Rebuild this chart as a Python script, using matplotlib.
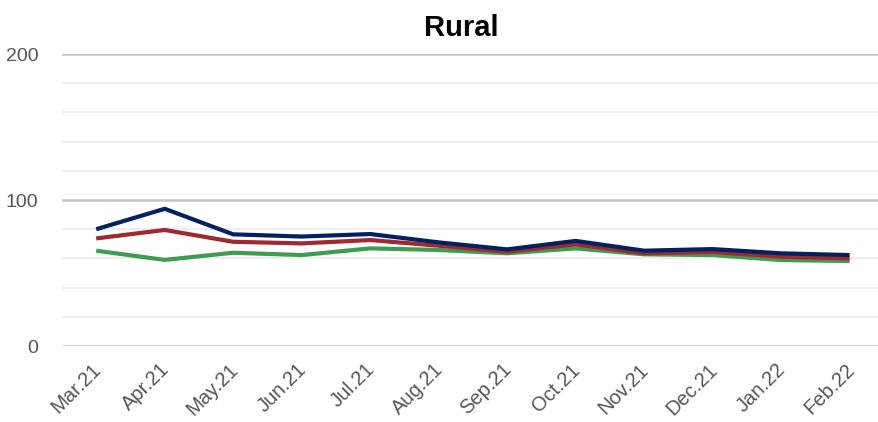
import numpy as np
import matplotlib.pyplot as plt
import matplotlib.transforms as mtransforms
from matplotlib.ticker import MultipleLocator

plt.rcParams['font.family'] = ['Liberation Sans', 'DejaVu Sans']

# monthly index values, rural series
months = ['Mar.21', 'Apr.21', 'May.21', 'Jun.21', 'Jul.21', 'Aug.21',
          'Sep.21', 'Oct.21', 'Nov.21', 'Dec.21', 'Jan.22', 'Feb.22']
navy_vals = [80, 94, 76.5, 75, 76.7, 71, 66.2, 72, 65.3, 66.4, 63.5, 62.3]
red_vals = [73.7, 79.5, 71.4, 70.3, 72.6, 68.7, 64.6, 69.6, 63.5, 64.4, 61.2, 60]
green_vals = [65.3, 59, 63.9, 62.3, 66.9, 65.8, 63.5, 66.9, 62.8, 62.3, 58.9, 58.2]

fig = plt.figure(figsize=(8.79, 4.22), dpi=100)
ax = fig.add_axes([0.0705, 0.18, 0.935, 0.692])

x = np.arange(len(months))
ax.plot(x, green_vals, color='#3F9B52', lw=3.0, solid_capstyle='butt', zorder=3)
ax.plot(x, red_vals, color='#9E2A2F', lw=3.0, solid_capstyle='butt', zorder=4)
ax.plot(x, navy_vals, color='#002060', lw=3.0, solid_capstyle='butt', zorder=5)

ax.set_xlim(-0.5, len(months) - 0.5)
ax.set_ylim(0, 200)
ax.yaxis.set_major_locator(MultipleLocator(100))
ax.yaxis.set_minor_locator(MultipleLocator(20))
ax.grid(which='major', axis='y', color='#C4C4C4', lw=1.8)
ax.grid(which='minor', axis='y', color='#EEEEEE', lw=1.4)
ax.set_axisbelow(True)
for s in ax.spines.values():
    s.set_visible(False)

ax.set_xticks(x)
ax.set_xticklabels(months, rotation=45, ha='right', rotation_mode='anchor',
                   fontsize=14.5, color='#555555')
ax.tick_params(axis='both', which='both', length=0)
ax.tick_params(axis='x', pad=10)
ax.tick_params(axis='y', labelsize=14, labelcolor='#555555', pad=17)

# nudge the slanted month labels a bit to the left
shift = mtransforms.ScaledTranslation(-5 / 100, 0, fig.dpi_scale_trans)
for lbl in ax.get_xticklabels():
    lbl.set_transform(lbl.get_transform() + shift)

# title sits a little left of the plot centre
ax.set_title('Rural', fontsize=21, fontweight='bold', pad=13, x=0.486)

fig.savefig('out.png', dpi=100)
